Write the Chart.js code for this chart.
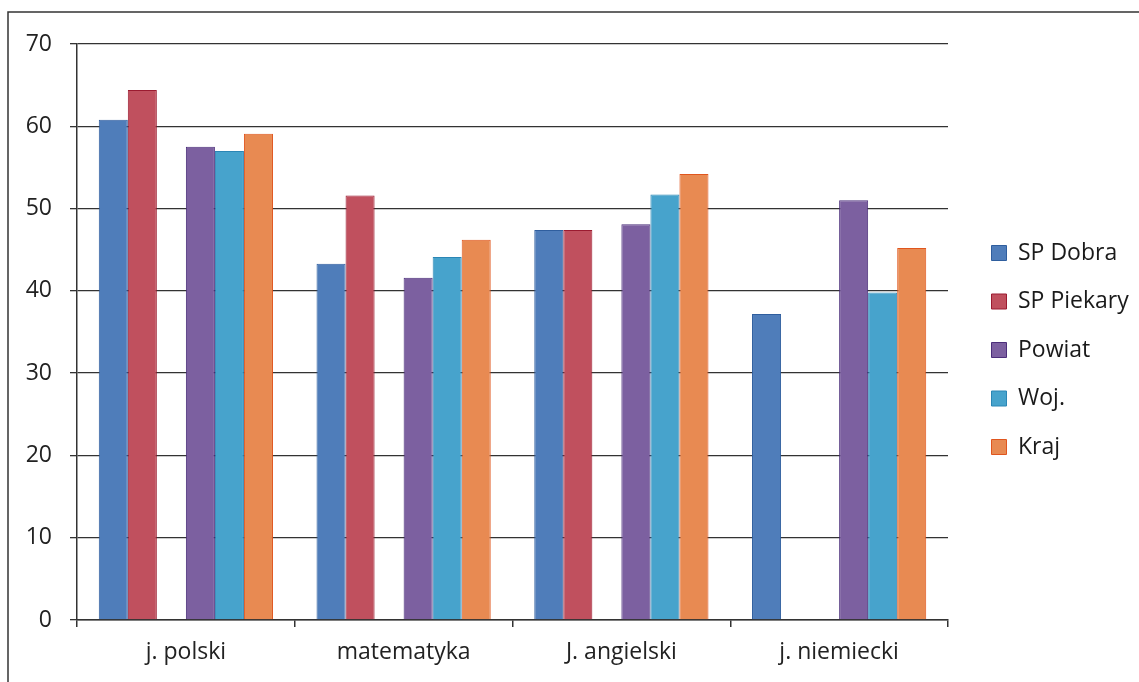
<!DOCTYPE html>
<html>
<head>
<meta charset="utf-8">
<script src="https://cdn.jsdelivr.net/npm/chart.js@4/dist/chart.umd.min.js"></script>
<style>
  html, body { margin: 0; padding: 0; background: #fff; }
  #wrap { width: 1139px; height: 682px; }
</style>
</head>
<body>
<div id="wrap"><canvas id="myChart"></canvas></div>
<script>
var categories = ["j. polski", "matematyka", "J. angielski", "j. niemiecki"];
var seriesNames = ["SP Dobra", "SP Piekary", "Powiat", "Woj.", "Kraj"];
var spDobra = [60.8, 43.3, 47.4, 37.2];
var spPiekary = [64.4, 51.6, 47.4, null];
var powiat = [57.5, 41.6, 48.1, 51.0];
var woj = [57.0, 44.1, 51.7, 39.8];
var kraj = [59.1, 46.2, 54.2, 45.2];
var emptySlot = [null, null, null, null]; // empty series in the original, leaves a gap
var yTicks = [0, 10, 20, 30, 40, 50, 60, 70];

var fillColors = ["#4f7dba", "#c0505e", "#7c60a0", "#47a3cc", "#e88a52"];
var edgeColors = ["#2f5e9e", "#9b1b30", "#4b2e7a", "#2b86b5", "#e0561e"];

var FONT = "'Open Sans', sans-serif";

function ds(i, values) {
  return {
    label: seriesNames[i],
    data: values,
    backgroundColor: fillColors[i],
    borderColor: edgeColors[i],
    borderWidth: 1
  };
}

var frame = {
  id: "frame",
  beforeDraw: function (chart) {
    var c = chart.ctx;
    c.save();
    c.strokeStyle = "#333";
    c.lineWidth = 1.5;
    c.beginPath();
    c.moveTo(8, 682);
    c.lineTo(8, 12);
    c.lineTo(1139, 12);
    c.stroke();
    c.restore();
  }
};

// fixed legend width, and nudge the legend block into place
var legendTweak = {
  id: "legendTweak",
  beforeInit: function (chart) {
    var lg = chart.legend;
    var fit = lg.fit, draw = lg.draw;
    lg.fit = function () {
      fit.call(this);
      this.width = 191;
    };
    lg.draw = function () {
      var c = this.ctx;
      c.save();
      c.translate(18, -13);
      draw.call(this);
      c.restore();
    };
  }
};

new Chart("myChart", {
  type: "bar",
  data: {
    labels: categories,
    datasets: [
      ds(0, spDobra),
      ds(1, spPiekary),
      { label: "", data: emptySlot, backgroundColor: "rgba(0,0,0,0)" },
      ds(2, powiat),
      ds(3, woj),
      ds(4, kraj)
    ]
  },
  options: {
    responsive: true,
    maintainAspectRatio: false,
    animation: false,
    devicePixelRatio: 1,
    layout: { padding: { top: 44, right: 0, bottom: 0, left: 0 } },
    datasets: {
      bar: { categoryPercentage: 0.8, barPercentage: 1.0 }
    },
    scales: {
      x: {
        afterFit: function (s) { s.height = 62; },
        grid: { drawOnChartArea: false, offset: true, tickLength: 7, color: "#333", lineWidth: 1.5 },
        border: { color: "#333", width: 1.5 },
        ticks: { color: "#222", padding: 12, font: { family: FONT, size: 23 } }
      },
      y: {
        min: 0,
        max: 70,
        afterFit: function (s) { s.width = 77; },
        afterBuildTicks: function (s) {
          s.ticks = yTicks.map(function (v) { return { value: v }; });
        },
        grid: { color: "#333", lineWidth: 1.3, tickLength: 7 },
        border: { color: "#333", width: 1.5 },
        ticks: { color: "#222", padding: 18, font: { family: FONT, size: 23 } }
      }
    },
    plugins: {
      tooltip: { enabled: false },
      legend: {
        display: true,
        position: "right",
        align: "center",
        labels: {
          color: "#1a1a1a",
          boxWidth: 15,
          boxHeight: 15,
          padding: 25.5,
          font: { family: FONT, size: 23 },
          filter: function (item) { return item.text !== ""; }
        }
      }
    }
  },
  plugins: [frame, legendTweak]
});
</script>
</body>
</html>
